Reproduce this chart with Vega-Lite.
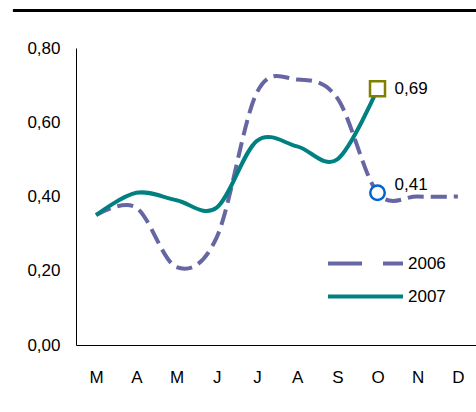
{
  "$schema": "https://vega.github.io/schema/vega-lite/v6.json",
  "width": 402,
  "height": 297,
  "padding": {"left": 11, "top": 9, "right": 0, "bottom": 0},
  "config": {
    "locale": {"number": {"decimal": ",", "thousands": ".", "grouping": [3], "currency": ["", " €"]}},
    "view": {"stroke": null},
    "font": "Liberation Sans, Arial, sans-serif"
  },
  "resolve": {"scale": {"x": "independent"}},
  "layer": [
    {
      "data": {
        "values": [
          {"m": "Mar", "year": "2006", "v": 0.35},
          {"m": "Apr", "year": "2006", "v": 0.37},
          {"m": "May", "year": "2006", "v": 0.21},
          {"m": "Jun", "year": "2006", "v": 0.29},
          {"m": "Jul", "year": "2006", "v": 0.68},
          {"m": "Aug", "year": "2006", "v": 0.715},
          {"m": "Sep", "year": "2006", "v": 0.665},
          {"m": "Oct", "year": "2006", "v": 0.41},
          {"m": "Nov", "year": "2006", "v": 0.40},
          {"m": "Dec", "year": "2006", "v": 0.40},
          {"m": "Mar", "year": "2007", "v": 0.35},
          {"m": "Apr", "year": "2007", "v": 0.41},
          {"m": "May", "year": "2007", "v": 0.39},
          {"m": "Jun", "year": "2007", "v": 0.37},
          {"m": "Jul", "year": "2007", "v": 0.55},
          {"m": "Aug", "year": "2007", "v": 0.535},
          {"m": "Sep", "year": "2007", "v": 0.50},
          {"m": "Oct", "year": "2007", "v": 0.69}
        ]
      },
      "encoding": {
        "x": {
          "field": "m",
          "type": "ordinal",
          "sort": ["Mar", "Apr", "May", "Jun", "Jul", "Aug", "Sep", "Oct", "Nov", "Dec"],
          "scale": {"type": "point", "padding": 0.5, "domain": ["Mar", "Apr", "May", "Jun", "Jul", "Aug", "Sep", "Oct", "Nov", "Dec"]},
          "axis": {
            "title": null,
            "labelAngle": 0,
            "ticks": false,
            "grid": false,
            "domainColor": "black",
            "labelColor": "black",
            "labelFontSize": 17,
            "labelPadding": 24,
            "labelExpr": "substring(datum.label, 0, 1)"
          }
        },
        "y": {
          "field": "v",
          "type": "quantitative",
          "scale": {"domain": [0, 0.8]},
          "axis": {
            "title": null,
            "values": [0, 0.2, 0.4, 0.6, 0.8],
            "format": ".2f",
            "ticks": false,
            "grid": false,
            "domainColor": "black",
            "labelColor": "black",
            "labelFontSize": 17,
            "labelPadding": 16
          }
        },
        "color": {
          "field": "year",
          "type": "nominal",
          "scale": {"domain": ["2006", "2007"], "range": ["#6666A3", "#008080"]},
          "legend": {
            "title": null,
            "orient": "none",
            "legendX": 250,
            "legendY": 199,
            "padding": 0,
            "symbolType": "stroke",
            "symbolSize": 5625,
            "symbolStrokeWidth": 4,
            "labelFontSize": 17,
            "labelColor": "black",
            "labelOffset": 3,
            "rowPadding": 0,
            "clipHeight": 33,
            "encode": {
              "symbols": {
                "update": {"strokeDash": {"signal": "datum.value === '2006' ? [34, 21] : [1, 0]"}}
              }
            }
          }
        }
      },
      "layer": [
        {
          "transform": [{"filter": "datum.year === '2006'"}],
          "mark": {"type": "line", "interpolate": "cardinal", "strokeWidth": 4, "strokeDash": [16, 7]}
        },
        {
          "transform": [{"filter": "datum.year === '2007'"}],
          "mark": {"type": "line", "interpolate": "cardinal", "strokeWidth": 4}
        },
        {
          "transform": [{"filter": "datum.year === '2006' && datum.m === 'Oct'"}],
          "mark": {"type": "point", "shape": "circle", "filled": false, "fill": "white", "fillOpacity": 1, "stroke": "#0066CC", "strokeWidth": 2.5, "size": 210, "opacity": 1},
          "encoding": {"color": {"value": "#0066CC"}}
        },
        {
          "transform": [{"filter": "datum.year === '2007' && datum.m === 'Oct'"}],
          "mark": {"type": "point", "shape": "square", "filled": false, "fill": "white", "fillOpacity": 1, "stroke": "#808000", "strokeWidth": 2.5, "size": 225, "opacity": 1},
          "encoding": {"color": {"value": "#808000"}}
        },
        {
          "transform": [{"filter": "datum.year === '2007' && datum.m === 'Oct'"}],
          "mark": {"type": "text", "align": "left", "baseline": "middle", "dx": 17, "dy": 0, "fontSize": 17},
          "encoding": {"text": {"field": "v", "type": "quantitative", "format": ".2f"}, "color": {"value": "black"}}
        },
        {
          "transform": [{"filter": "datum.year === '2006' && datum.m === 'Oct'"}],
          "mark": {"type": "text", "align": "left", "baseline": "middle", "dx": 17, "dy": -8, "fontSize": 17},
          "encoding": {"text": {"field": "v", "type": "quantitative", "format": ".2f"}, "color": {"value": "black"}}
        }
      ]
    },
    {
      "data": {"values": [{"bar": 1}]},
      "mark": {"type": "rule", "color": "black", "strokeWidth": 3},
      "encoding": {
        "x": {"datum": -0.157, "type": "quantitative", "scale": {"domain": [0, 1]}, "axis": null},
        "x2": {"datum": 1},
        "y": {"datum": 0.901, "type": "quantitative"}
      }
    }
  ]
}
